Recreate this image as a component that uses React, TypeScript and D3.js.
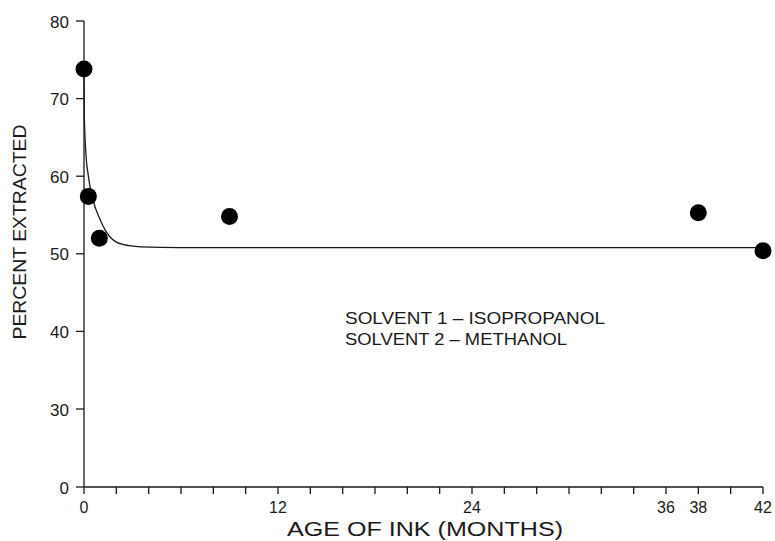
import React, { useRef, useEffect } from 'react'
import * as d3 from 'd3'

// measured points (age in months, percent extracted)
const ageMonths = [0, 0.27, 0.95, 9, 38, 42]
const percentExtracted = [73.8, 57.4, 52.0, 54.8, 55.3, 50.4]

// fitted curve
const curveAge = [0, 0.02, 0.1, 0.27, 0.55, 1, 1.6, 2.4, 3.5, 6, 42]
const curvePercent = [73.8, 67.8, 63.5, 60.0, 57.0, 54.4, 52.2, 51.2, 50.9, 50.8, 50.8]

const xTickLabels = [0, 12, 24, 36, 38, 42]
const xMinorTicks = d3.range(0, 43, 2)
const yTicks = [0, 30, 40, 50, 60, 70, 80]

const legendLines = ['SOLVENT 1 \u2013 ISOPROPANOL', 'SOLVENT 2 \u2013 METHANOL']

const App = () => {
  const chart = useRef<SVGSVGElement>(null)
  const dimensions = { width: 775, height: 541 }

  useEffect(() => {
    const svg = d3.select(chart.current)
    svg.selectAll('*').remove()

    const font = '"Liberation Sans", Arial, sans-serif'
    const ink = '#1a1a1a'

    const x = d3.scaleLinear().domain([0, 42]).range([84, 763])
    // broken axis: 0 sits one step below 30
    const y = d3.scaleLinear().domain([0, 30, 80]).range([487, 409, 21])

    const g = svg.append('g')

    // y axis
    g.append('line')
      .attr('x1', x(0)).attr('x2', x(0))
      .attr('y1', y(80)).attr('y2', y(0))
      .attr('stroke', ink).attr('stroke-width', 1.3)

    g.selectAll('.ytick')
      .data(yTicks)
      .join('line')
      .attr('x1', x(0) - 8).attr('x2', x(0))
      .attr('y1', d => y(d)).attr('y2', d => y(d))
      .attr('stroke', ink).attr('stroke-width', 1.3)

    g.selectAll('.ylab')
      .data(yTicks)
      .join('text')
      .attr('x', x(0) - 15)
      .attr('y', d => y(d) + 6.5)
      .attr('text-anchor', 'end')
      .attr('font-family', font)
      .attr('font-size', 17)
      .attr('fill', ink)
      .text(d => d)

    // x axis
    g.append('line')
      .attr('x1', x(0)).attr('x2', x(42))
      .attr('y1', y(0)).attr('y2', y(0))
      .attr('stroke', ink).attr('stroke-width', 1.3)

    g.selectAll('.xtick')
      .data(xMinorTicks)
      .join('line')
      .attr('x1', d => x(d)).attr('x2', d => x(d))
      .attr('y1', y(0)).attr('y2', y(0) + 7)
      .attr('stroke', ink).attr('stroke-width', 1.3)

    g.selectAll('.xlab')
      .data(xTickLabels)
      .join('text')
      .attr('x', d => x(d))
      .attr('y', 513)
      .attr('text-anchor', 'middle')
      .attr('font-family', font)
      .attr('font-size', 16)
      .attr('fill', ink)
      .text(d => d)

    // axis titles
    g.append('text')
      .attr('x', 425).attr('y', 536)
      .attr('text-anchor', 'middle')
      .attr('font-family', font)
      .attr('font-size', 20)
      .attr('textLength', 276)
      .attr('lengthAdjust', 'spacingAndGlyphs')
      .attr('fill', ink)
      .text('AGE OF INK (MONTHS)')

    g.append('text')
      .attr('transform', 'translate(26,232) rotate(-90)')
      .attr('text-anchor', 'middle')
      .attr('font-family', font)
      .attr('font-size', 19)
      .attr('textLength', 215)
      .attr('lengthAdjust', 'spacingAndGlyphs')
      .attr('fill', ink)
      .text('PERCENT EXTRACTED')

    // fitted curve
    const curveData = curveAge.map((a, i) => ({ a, p: curvePercent[i] }))
    const line = d3.line<{ a: number, p: number }>()
      .x(d => x(d.a))
      .y(d => y(d.p))
      .curve(d3.curveMonotoneX)

    g.append('path')
      .datum(curveData)
      .attr('d', line)
      .attr('fill', 'none')
      .attr('stroke', ink)
      .attr('stroke-width', 1.3)

    // points
    g.selectAll('.pt')
      .data(ageMonths.map((a, i) => ({ a, p: percentExtracted[i] })))
      .join('circle')
      .attr('cx', d => x(d.a))
      .attr('cy', d => y(d.p))
      .attr('r', 8.5)
      .attr('fill', '#000')

    // legend text
    g.selectAll('.legend')
      .data(legendLines)
      .join('text')
      .attr('x', 345)
      .attr('y', (d, i) => 324 + i * 21)
      .attr('font-family', font)
      .attr('font-size', 17)
      .attr('fill', ink)
      .attr('textLength', (d, i) => i === 0 ? 260 : 222)
      .attr('lengthAdjust', 'spacingAndGlyphs')
      .text(d => d)
  }, [])

  return (
    <div id="chartArea">
      <svg
        ref={chart}
        width={dimensions.width}
        height={dimensions.height}
        style={{ position: 'absolute', left: 0, top: 0, background: '#fff' }}
      ></svg>
    </div>
  )
}

export default App
